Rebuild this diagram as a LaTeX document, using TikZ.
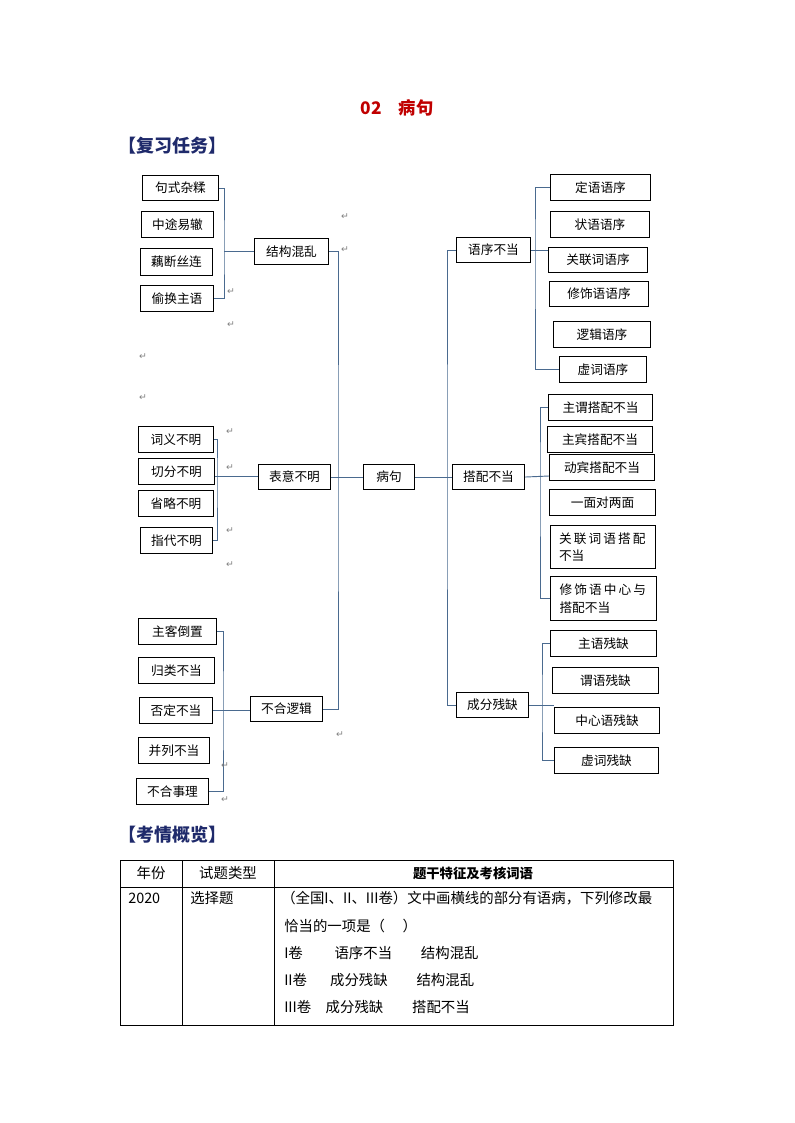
\documentclass[tikz,border=0pt]{standalone}
\usepackage{fontspec}
\setmainfont{Liberation Serif}
\newfontfamily\cjk{Noto Sans CJK SC}
\newfontfamily\sym{DejaVu Sans}
\definecolor{ln}{HTML}{4A6A8F}
\definecolor{ttl}{HTML}{C00000}
\definecolor{hd}{HTML}{1F2A6B}
\begin{document}
\begin{tikzpicture}[x=0.75pt,y=-0.75pt,
  bx/.style={draw,line width=0.8pt,inner sep=0pt,font=\cjk\fontsize{9.5}{13}\selectfont},
  conn/.style={draw=ln,line width=0.7pt},
  pm/.style={font=\sym\fontsize{7}{8}\selectfont,text=gray,inner sep=0pt},
  tx/.style={font=\cjk\fontsize{10.8}{12}\selectfont,inner sep=0pt,anchor=west}]
\useasboundingbox (0,0) rectangle (794,1123);
\newcommand{\bxn}[6]{\node[bx,minimum width={(#4-#2)*0.75pt},minimum height={(#5-#3)*0.75pt},anchor=north west] (#1) at (#2,#3) {#6};}
\node[font=\cjk\bfseries\fontsize{13}{14}\selectfont,text=ttl] (title) at (397,108) {02\quad 病句};
\node[font=\cjk\bfseries\fontsize{13.5}{14}\selectfont,text=hd,anchor=west,inner sep=0pt] (h1) at (118,146) {【复习任务】};
\node[font=\cjk\bfseries\fontsize{13.5}{14}\selectfont,text=hd,anchor=west,inner sep=0pt] (h2) at (118,835) {【考情概览】};
% left group 1
\bxn{a1}{142}{175}{218}{200}{句式杂糅}
\bxn{a2}{141}{211}{213}{237}{中途易辙}
\bxn{a3}{140}{248}{212}{275}{藕断丝连}
\bxn{a4}{140}{285}{213}{311}{偷换主语}
\bxn{A}{254}{238}{328}{264}{结构混乱}
% left group 2
\bxn{b1}{138}{426}{213}{452}{词义不明}
\bxn{b2}{138}{458}{214}{484}{切分不明}
\bxn{b3}{138}{490}{213}{516}{省略不明}
\bxn{b4}{140}{527}{212}{553}{指代不明}
\bxn{B}{258}{464}{330}{489}{表意不明}
% left group 3
\bxn{c1}{138}{618}{216}{644}{主客倒置}
\bxn{c2}{138}{657}{214}{683}{归类不当}
\bxn{c3}{139}{697}{212}{723}{否定不当}
\bxn{c4}{138}{737}{209}{763}{并列不当}
\bxn{c5}{136}{778}{208}{804}{不合事理}
\bxn{C}{250}{696}{322}{721}{不合逻辑}
% center
\bxn{R}{363}{464}{414}{489}{病句}
% right groups
\bxn{D}{456}{237}{530}{262}{语序不当}
\bxn{d1}{550}{174}{650}{200}{定语语序}
\bxn{d2}{550}{211}{649}{237}{状语语序}
\bxn{d3}{548}{247}{647}{272}{关联词语序}
\bxn{d4}{549}{281}{648}{306}{修饰语语序}
\bxn{d5}{553}{321}{650}{347}{逻辑语序}
\bxn{d6}{559}{356}{646}{382}{虚词语序}
\bxn{E}{452}{464}{524}{489}{搭配不当}
\bxn{e1}{548}{394}{652}{420}{主谓搭配不当}
\bxn{e2}{547}{426}{652}{452}{主宾搭配不当}
\bxn{e3}{549}{454}{654}{480}{动宾搭配不当}
\bxn{e4}{549}{489}{655}{515}{一面对两面}
\node[bx,minimum width=105*0.75pt,minimum height=43*0.75pt,anchor=north west,align=left,text width=88*0.75pt] (e5) at (550,525) {关\,联\,词\,语\,搭\,配\\不当};
\node[bx,minimum width=106*0.75pt,minimum height=44*0.75pt,anchor=north west,align=left,text width=88*0.75pt] (e6) at (550,576) {修\,饰\,语\,中\,心\,与\\搭配不当};
\bxn{F}{456}{692}{528}{717}{成分残缺}
\bxn{f1}{550}{630}{656}{656}{主语残缺}
\bxn{f2}{552}{667}{658}{693}{谓语残缺}
\bxn{f3}{554}{707}{659}{733}{中心语残缺}
\bxn{f4}{554}{747}{658}{773}{虚词残缺}
% connectors
\coordinate (ja) at (224,251);
\draw[conn] (a1.east) -| (ja) |- (a4.east);
\draw[conn] (ja) -- (ja -| A.west);
\coordinate (jb) at (217,476);
\draw[conn] (b1.east) -| (jb) |- (b4.east);
\draw[conn] (b2.east |- jb) -- (jb -| B.west);
\coordinate (jc) at (223,710);
\draw[conn] (c1.east) -| (jc) |- (c5.east);
\draw[conn] (c3.east |- jc) -- (jc -| C.west);
\coordinate (jl) at (338,476);
\draw[conn] (A.east) -| (jl) |- (C.east);
\draw[conn] (B.east) -- (R.west);
\coordinate (jr) at (447,476);
\draw[conn] (D.west) -| (jr) |- (F.west);
\draw[conn] (R.east) -- (E.west);
\coordinate (jd) at (535,250);
\draw[conn] (d1.west) -| (jd) |- (d6.west);
\draw[conn] (jd -| D.east) -- (jd -| d3.west);
\coordinate (je) at (540,476);
\draw[conn] (e1.west) -| (je) |- (e6.west);
\draw[conn] (E.east) -- (e3.west |- je);
\coordinate (jf) at (542,705);
\draw[conn] (f1.west) -| (jf) |- (f4.west);
\draw[conn] (jf -| F.east) -- (f3.west |- jf);
% paragraph marks
\foreach \x/\y [count=\i] in {345/217,345/250,231/292,231/325,143/357,143/398,230/432,230/468,230/531,230/565,340/735,225/766,225/800}
  \node[pm] (p\i) at (\x,\y) {↵};
% table
\draw[line width=0.6pt] (120,860) rectangle (673,1025);
\draw[line width=0.6pt] (120,887) -- (673,887) (182,860) -- (182,1025) (274,860) -- (274,1025);
\node[tx,anchor=center] (t1) at (151,873) {年份};
\node[tx,anchor=center] (t2) at (228,873) {试题类型};
\node[tx,anchor=center,font=\cjk\bfseries\fontsize{10}{12}\selectfont] (t3) at (473,873) {题干特征及考核词语};
\node[tx] (t4) at (128,898) {2020};
\node[tx] (t5) at (190,898) {选择题};
\node[tx] (t6) at (281,898) {（全国I、II、III卷）文中画横线的部分有语病，下列修改最};
\node[tx] (t7) at (284,926) {恰当的一项是（\quad\ ）};
\node[tx] (t8) at (284,953) {I卷\hspace{2.2em}语序不当\hspace{2em}结构混乱};
\node[tx] (t9) at (284,980) {II卷\hspace{1.6em}成分残缺\hspace{2em}结构混乱};
\node[tx] (t10) at (284,1007) {III卷\hspace{1em}成分残缺\hspace{2em}搭配不当};
\end{tikzpicture}
\end{document}
